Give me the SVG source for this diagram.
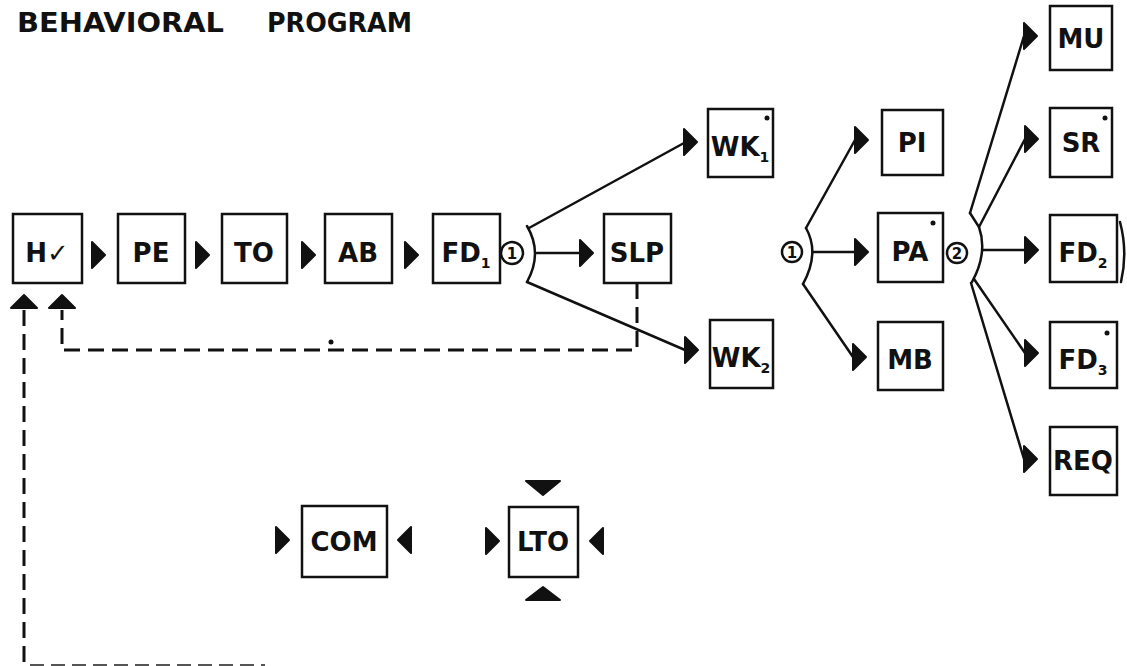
<svg xmlns="http://www.w3.org/2000/svg" width="1127" height="666" viewBox="0 0 1127 666">
<style>
.box{fill:#fff;stroke:#111;stroke-width:2.5}
.lbl{font-family:"DejaVu Sans",sans-serif;font-weight:bold;font-size:26px;fill:#111;text-anchor:middle}
.sub{font-size:14px}
.ln{fill:none;stroke:#111;stroke-width:2.5;stroke-linecap:round}
.dash{fill:none;stroke:#111;stroke-width:3;stroke-dasharray:16 8}
.tri{fill:#111;stroke:#111;stroke-width:2;stroke-linejoin:round}
.cir{fill:#fff;stroke:#111;stroke-width:2.5}
.num{font-family:"DejaVu Sans",sans-serif;font-weight:bold;font-size:15px;fill:#111;text-anchor:middle}
.dot{fill:#111}
.ttl{font-family:"DejaVu Sans",sans-serif;font-weight:bold;font-size:26px;fill:#111}
</style>
<defs>
<path id="tr" d="M0,-13 L13,0 L0,13 Z"/>
</defs>
<rect width="1127" height="666" fill="#fff"/>
<text class="ttl" x="17" y="32" textLength="207" lengthAdjust="spacingAndGlyphs">BEHAVIORAL</text>
<text class="ttl" x="267" y="32" textLength="145" lengthAdjust="spacingAndGlyphs">PROGRAM</text>

<g id="connectors">
  <circle class="cir" cx="512" cy="253" r="11"/>
  <text class="num" x="512" y="259">1</text>
  <path class="ln" d="M527,226 Q543,253 527,282"/>
  <path class="ln" d="M529,228 L684,143"/>
  <path class="ln" d="M537,253 L580,253"/>
  <path class="ln" d="M527,282 L685,350"/>
  <circle class="cir" cx="792" cy="252" r="10"/>
  <text class="num" x="792" y="258">1</text>
  <path class="ln" d="M806,228 Q820,253 803,284"/>
  <path class="ln" d="M806,228 L855,140"/>
  <path class="ln" d="M813,252 L855,252"/>
  <path class="ln" d="M803,284 L853,357"/>
  <circle class="cir" cx="957" cy="253" r="10"/>
  <text class="num" x="957" y="259">2</text>
  <path class="ln" d="M970,213 L979,227 Q988,253 972,282"/>
  <path class="ln" d="M970,213 L1024,36"/>
  <path class="ln" d="M979,227 L1025,139"/>
  <path class="ln" d="M983,250 L1025,250"/>
  <path class="ln" d="M974,279 L1025,353"/>
  <path class="ln" d="M971,283 L1024,459"/>
  <path class="ln" stroke-width="2" d="M1120,222 Q1128,252 1121,282"/>
  <path class="dash" d="M637,283 L637,350 L62,350 L62,310"/>
  <path class="dash" stroke-dasharray="14 10" d="M24,310 L24,666"/>
  <path fill="none" stroke="#555" stroke-width="2" stroke-dasharray="14 7" d="M30,665 L265,665"/>
  <circle class="dot" cx="331" cy="342" r="2.5"/>
  <use href="#tr" class="tri" transform="translate(92,255)"/>
  <use href="#tr" class="tri" transform="translate(196,255)"/>
  <use href="#tr" class="tri" transform="translate(302,255)"/>
  <use href="#tr" class="tri" transform="translate(405,255)"/>
  <use href="#tr" class="tri" transform="translate(580,253)"/>
  <use href="#tr" class="tri" transform="translate(684,142)"/>
  <use href="#tr" class="tri" transform="translate(685,350)"/>
  <use href="#tr" class="tri" transform="translate(855,140)"/>
  <use href="#tr" class="tri" transform="translate(855,252)"/>
  <use href="#tr" class="tri" transform="translate(853,357)"/>
  <use href="#tr" class="tri" transform="translate(1024,36)"/>
  <use href="#tr" class="tri" transform="translate(1025,139)"/>
  <use href="#tr" class="tri" transform="translate(1025,250)"/>
  <use href="#tr" class="tri" transform="translate(1025,353)"/>
  <use href="#tr" class="tri" transform="translate(1024,459)"/>
  <use href="#tr" class="tri" transform="translate(24,308) rotate(-90)"/>
  <use href="#tr" class="tri" transform="translate(62,308) rotate(-90)"/>
</g>

<g id="n-hv"><rect class="box" x="13" y="214" width="69" height="69"/><text class="lbl" x="47" y="262">H<tspan font-family="DejaVu Sans">✓</tspan></text></g>
<g id="n-pe"><rect class="box" x="118" y="214" width="67" height="69"/><text class="lbl" x="151" y="262">PE</text></g>
<g id="n-to"><rect class="box" x="222" y="214" width="65" height="69"/><text class="lbl" x="254" y="262">TO</text></g>
<g id="n-ab"><rect class="box" x="325" y="214" width="67" height="69"/><text class="lbl" x="358" y="262">AB</text></g>
<g id="n-fd1"><rect class="box" x="433" y="214" width="67" height="69"/><text class="lbl" x="466" y="262">FD<tspan class="sub" dy="6">1</tspan></text></g>
<g id="n-slp"><rect class="box" x="604" y="214" width="67" height="69"/><text class="lbl" x="637" y="262">SLP</text></g>
<g id="n-wk1"><rect class="box" x="708" y="109" width="65" height="68"/><text class="lbl" x="740" y="156">WK<tspan class="sub" dy="6">1</tspan></text><circle class="dot" cx="767" cy="118" r="2.5"/></g>
<g id="n-wk2"><rect class="box" x="710" y="320" width="63" height="68"/><text class="lbl" x="741" y="367">WK<tspan class="sub" dy="6">2</tspan></text></g>
<g id="n-pi"><rect class="box" x="882" y="110" width="61" height="65"/><text class="lbl" x="912" y="152">PI</text></g>
<g id="n-pa"><rect class="box" x="878" y="213" width="65" height="69"/><text class="lbl" x="910" y="261">PA</text><circle class="dot" cx="933" cy="223" r="2.5"/></g>
<g id="n-mb"><rect class="box" x="878" y="322" width="65" height="68"/><text class="lbl" x="910" y="369">MB</text></g>
<g id="n-mu"><rect class="box" x="1050" y="6" width="62" height="64"/><text class="lbl" x="1081" y="48">MU</text></g>
<g id="n-sr"><rect class="box" x="1050" y="108" width="62" height="69"/><text class="lbl" x="1081" y="152">SR</text><circle class="dot" cx="1105" cy="118" r="2.5"/></g>
<g id="n-fd2"><rect class="box" x="1050" y="215" width="67" height="67"/><text class="lbl" x="1083" y="262">FD<tspan class="sub" dy="6">2</tspan></text></g>
<g id="n-fd3"><rect class="box" x="1050" y="322" width="67" height="66"/><text class="lbl" x="1083" y="369">FD<tspan class="sub" dy="6">3</tspan></text><circle class="dot" cx="1107" cy="333" r="2.5"/></g>
<g id="n-req"><rect class="box" x="1050" y="427" width="67" height="68"/><text class="lbl" x="1083" y="470">REQ</text></g>
<g id="n-com"><rect class="box" x="302" y="506" width="85" height="71"/><text class="lbl" x="344" y="551">COM</text>
  <use href="#tr" class="tri" transform="translate(276,540)"/>
  <use href="#tr" class="tri" transform="translate(411,540) scale(-1,1)"/></g>
<g id="n-lto"><rect class="box" x="509" y="507" width="69" height="70"/><text class="lbl" x="543" y="551">LTO</text>
  <use href="#tr" class="tri" transform="translate(486,541)"/>
  <use href="#tr" class="tri" transform="translate(603,541) scale(-1,1)"/>
  <path class="tri" d="M526,481 L560,481 L543,495 Z"/>
  <path class="tri" d="M526,600 L560,600 L543,587 Z"/></g>
</svg>
